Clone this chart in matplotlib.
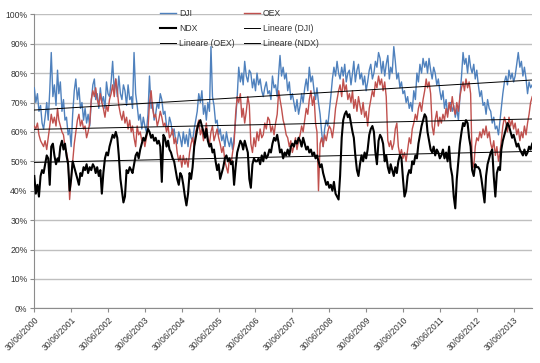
import matplotlib
matplotlib.use("Agg")
import matplotlib.pyplot as plt
import matplotlib.dates as mdates
import numpy as np
import pandas as pd

plt.rcParams['font.family'] = ['Liberation Sans', 'DejaVu Sans']

# Semi-monthly readings (percent) from 30/06/2000; each row = 15 Jul .. 30 Jun of next year
dji = [75,
       70, 73, 67, 69, 63, 61, 65, 70, 64, 74, 87, 72, 76, 69, 81, 73, 77, 67, 71, 64, 65, 59, 61, 55,
       66, 74, 78, 71, 75, 68, 70, 64, 68, 63, 66, 62, 70, 76, 78, 71, 73, 68, 75, 70, 72, 68, 77, 73,
       72, 77, 84, 74, 78, 72, 79, 73, 71, 76, 74, 69, 76, 71, 72, 68, 87, 73, 69, 64, 66, 61, 65, 62,
       60, 66, 79, 68, 70, 64, 66, 70, 68, 73, 71, 66, 67, 62, 61, 65, 63, 59, 61, 57, 56, 60, 58, 55,
       60, 56, 59, 55, 61, 58, 57, 61, 64, 67, 73, 70, 74, 66, 69, 64, 70, 67, 89, 72, 69, 63, 64, 59,
       61, 57, 59, 55, 60, 57, 55, 58, 54, 58, 64, 72, 82, 77, 80, 76, 84, 79, 77, 81, 80, 75, 78, 74,
       80, 76, 78, 74, 72, 75, 77, 73, 74, 71, 79, 75, 76, 72, 80, 86, 79, 82, 78, 80, 74, 77, 71, 73,
       70, 67, 71, 66, 69, 73, 70, 75, 78, 74, 82, 77, 79, 74, 71, 75, 70, 66, 60, 55, 61, 64, 62, 67,
       72, 78, 82, 79, 84, 80, 78, 82, 79, 83, 77, 80, 81, 76, 80, 84, 77, 81, 83, 78, 80, 76, 79, 74,
       77, 81, 83, 78, 80, 84, 82, 87, 85, 80, 84, 79, 83, 86, 78, 82, 80, 89, 84, 78, 80, 75, 77, 73,
       74, 70, 72, 68, 70, 67, 74, 71, 80, 77, 83, 80, 85, 82, 84, 80, 85, 81, 78, 82, 80, 76, 78, 74,
       71, 74, 68, 71, 66, 69, 70, 67, 69, 65, 68, 64, 72, 79, 87, 83, 85, 80, 86, 82, 80, 83, 78, 81,
       76, 72, 74, 69, 70, 66, 71, 68, 67, 63, 65, 61, 62, 59, 64, 68, 73, 77, 79, 76, 81, 78, 80, 77,
       79, 83, 87, 82, 84, 79, 82, 78, 73, 77, 75, 76]

oex = [62,
       61, 63, 59, 57, 56, 55, 57, 54, 58, 62, 66, 63, 65, 62, 68, 64, 62, 60, 59, 55, 53, 50, 37, 44,
       50, 56, 60, 64, 66, 62, 64, 61, 62, 58, 60, 63, 71, 74, 72, 75, 71, 69, 73, 70, 68, 65, 69, 67,
       71, 73, 76, 72, 78, 74, 69, 66, 64, 67, 63, 65, 61, 64, 60, 62, 58, 55, 62, 59, 60, 57, 58, 55,
       58, 61, 70, 74, 68, 65, 66, 62, 64, 67, 65, 62, 63, 60, 62, 58, 59, 61, 56, 58, 53, 50, 52, 48,
       52, 49, 51, 48, 53, 56, 58, 55, 60, 62, 64, 59, 61, 57, 60, 63, 58, 56, 60, 62, 57, 59, 61, 58,
       56, 53, 55, 50, 48, 46, 51, 49, 53, 56, 66, 72, 70, 73, 65, 68, 63, 67, 72, 69, 56, 53, 58, 55,
       60, 57, 61, 58, 59, 63, 61, 65, 64, 60, 62, 59, 63, 66, 74, 71, 68, 64, 62, 59, 58, 55, 57, 53,
       55, 58, 54, 57, 59, 62, 60, 64, 68, 66, 71, 74, 69, 72, 63, 60, 40, 56, 58, 55, 59, 57, 60, 62,
       61, 58, 62, 68, 71, 74, 76, 72, 78, 74, 76, 71, 73, 70, 74, 68, 71, 67, 72, 69, 66, 70, 65, 67,
       62, 68, 71, 74, 72, 77, 75, 79, 76, 78, 74, 77, 72, 57, 55, 57, 54, 56, 61, 63, 55, 52, 54, 51,
       53, 50, 54, 58, 56, 61, 63, 66, 64, 68, 70, 67, 71, 74, 78, 75, 77, 73, 62, 59, 64, 67, 62, 65,
       63, 66, 64, 68, 65, 70, 67, 72, 68, 66, 70, 67, 72, 75, 77, 74, 78, 75, 77, 73, 50, 48, 55, 58,
       57, 60, 58, 61, 59, 62, 58, 60, 56, 54, 57, 52, 55, 50, 53, 57, 62, 65, 63, 60, 65, 62, 64, 61,
       63, 59, 61, 57, 60, 58, 62, 59, 63, 66, 70, 72]

ndx = [45,
       39, 42, 38, 45, 47, 46, 49, 52, 51, 42, 55, 56, 52, 49, 51, 50, 55, 57, 54, 56, 52, 49, 40, 44,
       50, 48, 46, 44, 42, 46, 45, 48, 47, 49, 46, 48, 47, 49, 48, 46, 48, 45, 47, 39, 46, 51, 53, 52,
       55, 57, 59, 58, 60, 58, 52, 44, 40, 36, 38, 47, 46, 48, 47, 46, 49, 52, 53, 51, 54, 56, 58, 57,
       59, 61, 60, 58, 59, 57, 58, 56, 57, 55, 43, 59, 58, 55, 57, 54, 53, 51, 50, 47, 44, 42, 46, 45,
       42, 38, 35, 39, 46, 44, 48, 55, 58, 61, 63, 64, 62, 60, 58, 61, 57, 55, 56, 53, 54, 50, 47, 49,
       44, 46, 48, 51, 52, 50, 51, 49, 50, 42, 48, 53, 55, 57, 56, 54, 57, 55, 53, 44, 41, 49, 51, 50,
       50, 51, 49, 52, 50, 53, 51, 52, 54, 53, 56, 58, 57, 59, 56, 53, 54, 51, 53, 52, 54, 52, 55, 56,
       55, 57, 56, 58, 57, 55, 58, 56, 54, 55, 53, 54, 52, 53, 51, 52, 50, 48, 49, 46, 44, 42, 43, 41,
       42, 40, 43, 39, 38, 37, 45, 58, 64, 66, 67, 65, 66, 63, 60, 58, 52, 47, 45, 49, 52, 50, 53, 51,
       54, 59, 61, 62, 60, 53, 49, 57, 59, 58, 56, 50, 52, 48, 46, 49, 47, 45, 48, 46, 50, 52, 51, 44,
       38, 40, 45, 47, 46, 50, 49, 52, 51, 56, 59, 62, 64, 66, 65, 60, 57, 54, 53, 55, 52, 54, 53, 51,
       52, 54, 51, 53, 50, 55, 48, 45, 38, 34, 44, 50, 56, 60, 63, 62, 64, 63, 58, 55, 47, 45, 49, 48,
       48, 47, 44, 40, 36, 45, 49, 51, 53, 54, 45, 38, 46, 48, 47, 54, 57, 59, 61, 63, 62, 60, 58, 59,
       57, 55, 56, 54, 53, 52, 54, 52, 53, 55, 54, 56]

series_names = ['DJI', 'OEX', 'NDX']
series_colors = ['#4F81BD', '#C0504D', '#000000']
tick_years = list(range(2000, 2014))
start_date = '2000-06-30'


def semi_month_dates(n):
    try:
        return pd.date_range(start_date, periods=n, freq='SME')
    except ValueError:
        return pd.date_range(start_date, periods=n, freq='SM')


fig = plt.figure(figsize=(5.4, 3.63), dpi=100)
ax = fig.add_axes([34.3 / 540, 1 - 308.3 / 363, (532.3 - 34.3) / 540, (308.3 - 14.3) / 363])

lines, trend = {}, {}
for name, vals, col, lw in zip(series_names, [dji, oex, ndx], series_colors, [1.0, 1.0, 1.5]):
    d = semi_month_dates(len(vals))
    v = np.array(vals, dtype=float) / 100.0
    (ln,) = ax.plot(d, v, color=col, lw=lw, zorder=3)
    lines[name] = ln

for name, vals in zip(series_names, [dji, oex, ndx]):
    d = semi_month_dates(len(vals))
    xn = mdates.date2num(d)
    v = np.array(vals, dtype=float) / 100.0
    k, b = np.polyfit(xn, v, 1)
    xx = np.array([xn[0], xn[-1]])
    (tl,) = ax.plot(mdates.num2date(xx), k * xx + b, color='#000000', lw=0.7, zorder=4)
    trend[name] = tl

ax.set_ylim(0, 1.0)
yt = np.arange(0, 1.01, 0.1)
ax.set_yticks(yt)
ax.set_yticklabels([f"{int(round(t * 100))}%" for t in yt])
ax.set_xlim(mdates.date2num(pd.Timestamp('2000-06-30')), mdates.date2num(pd.Timestamp('2014-01-01')))
tick_dates = [pd.Timestamp(f'{y}-06-30') for y in tick_years]
ax.set_xticks(mdates.date2num(tick_dates))
ax.set_xticklabels([d.strftime('%d/%m/%Y') for d in tick_dates], rotation=45, ha='right',
                   rotation_mode='anchor')

ax.grid(axis='y', color='#BFBFBF', lw=1.0, zorder=0)
ax.set_axisbelow(True)
for s in ['top', 'right']:
    ax.spines[s].set_visible(False)
for s in ['left', 'bottom']:
    ax.spines[s].set_color('#8C8C8C')
    ax.spines[s].set_linewidth(0.8)
ax.tick_params(axis='both', labelsize=6.2, colors='#8C8C8C', labelcolor='#333333', length=3, width=0.8,
               direction='out', pad=2)

handles = [lines['DJI'], lines['NDX'], trend['OEX'], lines['OEX'], trend['DJI'], trend['NDX']]
labels = ['DJI', 'NDX', 'Lineare (OEX)', 'OEX', 'Lineare (DJI)', 'Lineare (NDX)']
leg = fig.legend(handles, labels, ncol=2, loc='upper left', bbox_to_anchor=(160 / 540, 1 - 9 / 363),
                 frameon=False, fontsize=6.2, handlelength=1.9, handletextpad=0.3, columnspacing=1.1,
                 labelspacing=0.68, borderpad=0, borderaxespad=0)
for t in leg.get_texts():
    t.set_color('#333333')

fig.savefig('out.png', dpi=100)
